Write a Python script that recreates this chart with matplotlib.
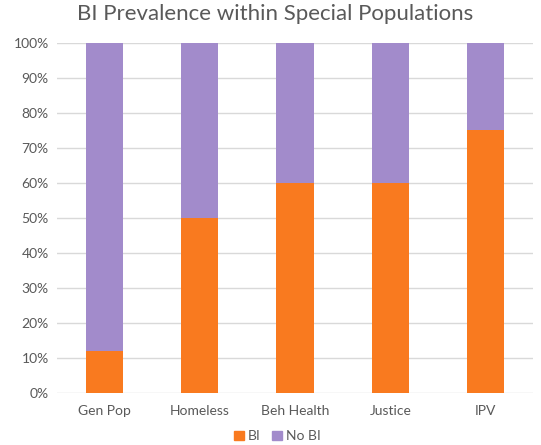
import matplotlib
matplotlib.use("Agg")
import matplotlib.pyplot as plt
from matplotlib.ticker import PercentFormatter
from matplotlib.patches import Patch

categories = ["Gen Pop", "Homeless", "Beh Health", "Justice", "IPV"]
bi = [12, 50, 60, 60, 75]
no_bi = [88, 50, 40, 40, 25]
yticks = [0, 10, 20, 30, 40, 50, 60, 70, 80, 90, 100]

plt.rcParams['font.family'] = ['Lato', 'DejaVu Sans']
text_color = "#595959"
c_bi = "#F97A1F"
c_no = "#A28BCB"

fig = plt.figure(figsize=(5.41, 4.45), dpi=100)
ax = fig.add_axes([0.1054, 0.1169, 0.880, 0.7865])

x = list(range(len(categories)))
ax.bar(x, bi, width=0.39, color=c_bi, zorder=3)
ax.bar(x, no_bi, width=0.39, bottom=bi, color=c_no, zorder=3)

ax.set_xlim(-0.5, len(categories) - 0.5)
ax.set_ylim(0, 100)
ax.set_yticks(yticks)
ax.yaxis.set_major_formatter(PercentFormatter(decimals=0))
ax.set_xticks(x)
ax.set_xticklabels(categories)
ax.grid(axis='y', color="#D9D9D9", linewidth=1, zorder=0)
for s in ax.spines.values():
    s.set_visible(False)
ax.tick_params(axis='both', length=0, colors=text_color, labelsize=10)
ax.tick_params(axis='x', pad=9)
ax.tick_params(axis='y', pad=6)

fig.suptitle("BI Prevalence within Special Populations", x=0.508, y=0.99,
             fontsize=16, color=text_color)

handles = [Patch(color=c_bi, label="BI"), Patch(color=c_no, label="No BI")]
fig.legend(handles=handles, loc='lower center', bbox_to_anchor=(0.513, -0.022),
           ncol=2, frameon=False, fontsize=10, labelcolor=text_color,
           handlelength=0.7, handleheight=0.7, handletextpad=0.3, columnspacing=0.8)

fig.savefig("out.png", dpi=100)
